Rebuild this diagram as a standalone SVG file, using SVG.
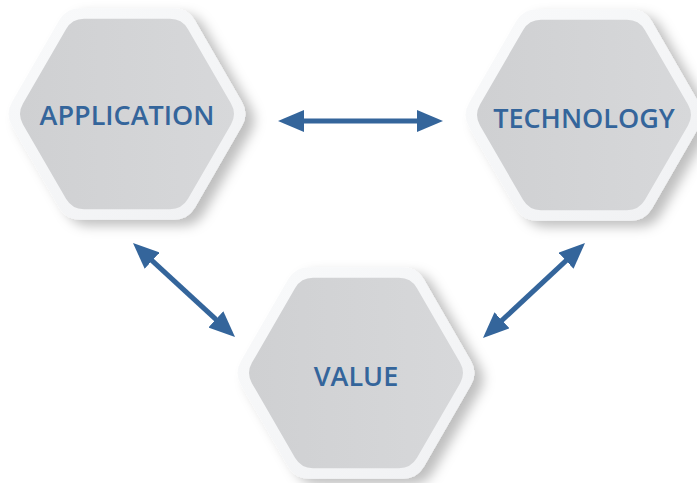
<svg xmlns="http://www.w3.org/2000/svg" width="697" height="483" viewBox="0 0 697 483">
<style>
.lbl{font-family:"Open Sans","Liberation Sans",sans-serif;font-weight:600;font-size:27px;fill:#34659b;text-anchor:middle;dominant-baseline:central}
.con{stroke:#34659b;stroke-width:5;fill:none}
</style>
<defs>
<linearGradient id="gOut" x1="0" y1="0" x2="1" y2="1">
<stop offset="0" stop-color="#f9fafb"/><stop offset="1" stop-color="#f0f1f3"/>
</linearGradient>
<linearGradient id="gIn" x1="0" y1="0" x2="1" y2="0">
<stop offset="0" stop-color="#cfd0d2"/><stop offset="1" stop-color="#d7d8da"/>
</linearGradient>
<filter id="sh" x="-20%" y="-20%" width="145%" height="145%">
<feDropShadow dx="9" dy="6" stdDeviation="6" flood-color="#000" flood-opacity="0.25"/>
</filter>
<path id="hexO" d="M 47,-105.66 Q 61,-105.66 68,-93.54 L 115,-12.12 Q 122,0 115,12.12 L 68,93.54 Q 61,105.66 47,105.66 L -47,105.66 Q -61,105.66 -68,93.54 L -115,12.12 Q -122,0 -115,-12.12 L -68,-93.54 Q -61,-105.66 -47,-105.66 Z"/>
<path id="hexI" d="M 43,-95.26 Q 55,-95.26 61,-84.87 L 104,-10.39 Q 110,0 104,10.39 L 61,84.87 Q 55,95.26 43,95.26 L -43,95.26 Q -55,95.26 -61,84.87 L -104,10.39 Q -110,0 -104,-10.39 L -61,-84.87 Q -55,-95.26 -43,-95.26 Z"/>
<marker id="ah" viewBox="0 0 26 22" refX="6" refY="11" markerWidth="26" markerHeight="22" markerUnits="userSpaceOnUse" orient="auto-start-reverse">
<path d="M0,0 L26,11 L0,22 Z" fill="#34659b"/>
</marker>
</defs>
<rect width="697" height="483" fill="#ffffff"/>
<g id="application" transform="translate(127,114)">
<use href="#hexO" fill="url(#gOut)" filter="url(#sh)"/>
<use href="#hexI" fill="url(#gIn)"/>
<text class="lbl" x="0" y="0">APPLICATION</text>
</g>
<g id="technology" transform="translate(584,115)">
<use href="#hexO" fill="url(#gOut)" filter="url(#sh)"/>
<use href="#hexI" fill="url(#gIn)"/>
<text class="lbl" x="0" y="2">TECHNOLOGY</text>
</g>
<g id="value" transform="translate(356,373)">
<use href="#hexO" fill="url(#gOut)" filter="url(#sh)"/>
<use href="#hexI" fill="url(#gIn)"/>
<text class="lbl" x="0" y="2">VALUE</text>
</g>
<g id="connectors">
<line class="con" x1="298" y1="121" x2="423" y2="121" marker-start="url(#ah)" marker-end="url(#ah)"/>
<line class="con" x1="147.7" y1="256.6" x2="220.3" y2="323.4" marker-start="url(#ah)" marker-end="url(#ah)"/>
<line class="con" x1="570.4" y1="256.6" x2="497.6" y2="324.4" marker-start="url(#ah)" marker-end="url(#ah)"/>
</g>
</svg>
